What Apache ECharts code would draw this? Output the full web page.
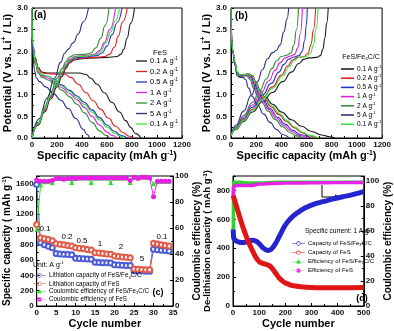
<!DOCTYPE html>
<html>
<head>
<meta charset="utf-8">
<script src="https://cdn.jsdelivr.net/npm/echarts@6/dist/echarts.min.js"></script>
<style>
html, body { margin: 0; padding: 0; background: #fff; }
#chart { width: 394px; height: 331px; }
</style>
</head>
<body>
<div id="chart"></div>
<script>
// rates shown in the legends of (a) and (b)
const rateLabels = ['0.1', '0.2', '0.5', '1', '2', '5', '0.1'];

// (a) FeS, discharge curves [capacity, potential]
const aDis01 = [[0,2.3],[10,2.1],[25,1.85],[50,1.62],[80,1.52],[120,1.5],[250,1.5],[380,1.5],[430,1.47],[470,1.38],[520,1.24],[580,1.04],[640,0.82],[700,0.6],[750,0.4],[790,0.24],[830,0.1],[870,0]];
const aDis02 = [[0,2.3],[10,2.08],[25,1.82],[50,1.6],[80,1.5],[150,1.48],[260,1.47],[310,1.4],[370,1.24],[430,1.05],[490,0.86],[550,0.66],[610,0.46],[670,0.27],[730,0.12],[780,0.04],[815,0]];
const aDis05 = [[0,2.3],[10,2.05],[25,1.78],[50,1.55],[80,1.45],[130,1.42],[180,1.35],[240,1.22],[300,1.1],[360,0.97],[420,0.82],[480,0.65],[540,0.47],[600,0.3],[660,0.15],[710,0.06],[760,0]];
const aDis1 = [[0,2.3],[10,2.02],[25,1.75],[50,1.52],[80,1.43],[130,1.38],[180,1.3],[240,1.16],[300,1.02],[360,0.88],[420,0.7],[480,0.5],[540,0.3],[600,0.14],[640,0.06],[680,0]];
const aDis2 = [[0,2.3],[10,2.0],[25,1.72],[50,1.5],[80,1.4],[130,1.34],[180,1.25],[240,1.1],[300,0.95],[360,0.78],[420,0.58],[480,0.36],[540,0.17],[590,0.06],[620,0]];
const aDis5 = [[0,2.25],[8,1.9],[20,1.55],[35,1.38],[60,1.3],[110,1.18],[170,1.03],[230,0.87],[290,0.68],[350,0.45],[410,0.2],[440,0.08],[460,0]];
const aDis01b = [[0,3.0],[3,2.5],[10,2.1],[25,1.78],[50,1.55],[80,1.46],[130,1.42],[180,1.34],[240,1.2],[300,1.07],[360,0.93],[420,0.77],[480,0.6],[540,0.42],[600,0.25],[660,0.11],[700,0.05],[740,0]];

// (a) FeS, charge curves
const aChg01 = [[0,0],[50,0.3],[100,0.6],[150,0.9],[200,1.18],[240,1.42],[270,1.6],[300,1.73],[340,1.8],[400,1.83],[500,1.85],[600,1.86],[680,1.88],[710,1.93],[735,2.05],[760,2.3],[790,2.65],[820,3.0]];
const aChg02 = [[0,0],[50,0.32],[100,0.63],[150,0.94],[200,1.23],[240,1.47],[270,1.63],[300,1.75],[340,1.82],[400,1.85],[500,1.86],[580,1.88],[620,1.93],[660,2.1],[690,2.35],[725,2.68],[762,3.0]];
const aChg05 = [[0,0],[50,0.33],[100,0.66],[150,0.97],[200,1.27],[240,1.5],[270,1.66],[300,1.78],[340,1.85],[420,1.87],[520,1.9],[560,1.96],[600,2.12],[640,2.38],[680,2.66],[720,3.0]];
const aChg1 = [[0,0],[50,0.34],[100,0.68],[150,1.0],[200,1.3],[240,1.53],[270,1.7],[300,1.82],[340,1.88],[420,1.9],[500,1.93],[540,2.02],[580,2.2],[620,2.5],[668,3.0]];
const aChg2 = [[0,0],[50,0.36],[100,0.72],[150,1.06],[200,1.38],[240,1.6],[270,1.76],[300,1.87],[340,1.92],[420,1.93],[470,1.96],[510,2.08],[550,2.3],[585,2.6],[616,3.0]];
const aChg5 = [[0,0],[60,0.45],[120,0.92],[180,1.38],[230,1.75],[260,1.95],[290,2.05],[330,2.2],[370,2.4],[410,2.68],[452,3.0]];
const aChg01b = [[0,0],[50,0.33],[100,0.67],[150,0.99],[200,1.29],[240,1.52],[270,1.68],[300,1.8],[340,1.87],[420,1.89],[510,1.92],[550,2.0],[590,2.2],[630,2.45],[665,2.7],[700,3.0]];

// (b) FeS/Fe3C/C, discharge curves
const bDis01 = [[0,3.0],[2,2.6],[6,2.25],[15,2.0],[30,1.75],[50,1.52],[70,1.46],[100,1.46],[140,1.48],[170,1.44],[200,1.28],[230,1.1],[270,0.95],[330,0.78],[400,0.6],[480,0.42],[560,0.27],[640,0.15],[720,0.07],[780,0.03],[825,0]];
const bDis02 = [[0,3.0],[2,2.6],[6,2.25],[15,2.0],[30,1.75],[50,1.5],[70,1.45],[100,1.46],[140,1.47],[165,1.42],[195,1.25],[225,1.06],[260,0.92],[320,0.72],[380,0.54],[440,0.38],[500,0.24],[560,0.13],[620,0.05],[690,0]];
const bDis05 = [[0,3.0],[2,2.6],[6,2.25],[15,2.0],[30,1.74],[50,1.49],[70,1.44],[100,1.45],[135,1.46],[160,1.4],[190,1.22],[220,1.03],[255,0.88],[310,0.68],[370,0.48],[430,0.32],[490,0.18],[550,0.08],[632,0]];
const bDis1 = [[0,3.0],[2,2.6],[6,2.25],[15,2.0],[30,1.74],[50,1.48],[70,1.43],[100,1.44],[130,1.45],[155,1.38],[185,1.18],[215,1.0],[250,0.85],[300,0.66],[360,0.46],[420,0.29],[480,0.15],[540,0.06],[605,0]];
const bDis2 = [[0,3.0],[2,2.6],[6,2.25],[15,2.0],[30,1.73],[50,1.47],[70,1.42],[100,1.43],[125,1.43],[150,1.35],[180,1.15],[210,0.97],[245,0.82],[295,0.62],[350,0.43],[410,0.26],[470,0.12],[520,0.05],[567,0]];
const bDis5 = [[0,3.0],[2,2.55],[6,2.2],[15,1.95],[30,1.68],[50,1.43],[70,1.4],[95,1.4],[115,1.35],[140,1.15],[170,0.95],[210,0.76],[260,0.55],[310,0.36],[360,0.2],[410,0.08],[462,0]];
const bDis01b = [[0,3.0],[2,2.6],[6,2.25],[15,2.0],[30,1.76],[50,1.52],[70,1.46],[100,1.47],[140,1.48],[168,1.43],[198,1.26],[228,1.08],[265,0.94],[325,0.74],[385,0.56],[445,0.4],[505,0.26],[565,0.14],[625,0.06],[695,0]];

// (b) FeS/Fe3C/C, charge curves
const bChg01 = [[0,0.05],[40,0.2],[100,0.38],[170,0.6],[250,0.83],[330,1.05],[410,1.3],[480,1.52],[540,1.72],[580,1.82],[620,1.85],[680,1.86],[710,1.9],[730,2.05],[745,2.3],[760,2.65],[772,3.0]];
const bChg02 = [[0,0.05],[40,0.22],[100,0.42],[170,0.66],[250,0.92],[330,1.18],[400,1.45],[450,1.66],[490,1.8],[530,1.86],[580,1.88],[610,1.95],[635,2.15],[655,2.5],[672,3.0]];
const bChg05 = [[0,0.05],[40,0.23],[100,0.45],[170,0.71],[250,0.99],[320,1.26],[380,1.52],[420,1.7],[460,1.82],[500,1.87],[540,1.9],[565,2.0],[585,2.25],[598,2.6],[606,3.0]];
const bChg1 = [[0,0.05],[40,0.24],[100,0.48],[170,0.76],[240,1.05],[300,1.32],[350,1.56],[390,1.74],[430,1.85],[470,1.89],[505,1.93],[530,2.08],[550,2.4],[567,3.0]];
const bChg2 = [[0,0.05],[40,0.26],[100,0.52],[170,0.82],[230,1.1],[280,1.36],[325,1.6],[360,1.77],[400,1.88],[440,1.91],[475,1.96],[500,2.15],[520,2.5],[536,3.0]];
const bChg5 = [[0,0.05],[40,0.3],[100,0.62],[160,0.98],[210,1.3],[250,1.58],[290,1.83],[330,1.97],[360,2.02],[390,2.15],[420,2.45],[445,2.75],[458,3.0]];
const bChg01b = [[0,0.05],[40,0.21],[100,0.4],[170,0.64],[250,0.9],[330,1.15],[410,1.43],[460,1.64],[500,1.79],[540,1.86],[600,1.88],[630,1.95],[655,2.15],[675,2.5],[692,3.0]];

// (c) rate performance
const cCycles = [0,1,2,3,4,5,6,7,8,9,10,11,12,13,14,15,16,17,18,19,20,21,22,23,24,25,26,27,28,29,30,31,32,33,34];
const cCapFeSC = [1590,828,800,780,762,685,680,676,673,670,625,620,617,614,611,572,569,567,565,563,538,535,532,530,528,462,459,457,455,454,741,735,730,725,720];
const cCapFeS = [1065,893,880,868,852,815,807,800,792,786,762,755,748,740,732,697,692,686,681,676,654,648,642,636,631,485,480,477,475,473,820,810,800,792,784];
const cCeFeSC = [59,93,95.5,96,95,98,98,98,98,95,98,98.5,98.5,98.5,95,98.5,98.5,98.5,98.5,95,98.5,98.5,98.5,98.5,95,99,99,99,99,99,94,95.5,96,96,96];
const cCeFeS = [97,96,96,96,96.5,98,98,97.5,98,98,98,98.5,98.5,98.5,98.5,98.5,98.5,98.5,98.5,98.5,98.5,98.5,98.5,98.5,96.5,99,98,99,99,98.5,84,96,96,96,96];
const cRateText = ['0.1', '0.2', '0.5', '1', '2', '5', '0.1'];

// (d) long cycling at 1 A g-1 [cycle, value]
const dCapFeSC = [[1,530],[2,478],[4,465],[8,458],[15,448],[25,442],[40,440],[55,445],[65,452],[75,456],[85,452],[95,440],[105,422],[115,403],[125,390],[135,385],[145,392],[155,412],[165,440],[175,475],[185,510],[195,545],[210,585],[230,622],[250,650],[275,678],[300,698],[330,716],[360,730],[390,744],[420,756],[450,768],[480,782],[500,792]];
const dCapFeS = [[1,765],[4,745],[10,710],[20,650],[30,590],[40,535],[50,485],[60,440],[70,400],[80,362],[90,330],[100,308],[110,298],[120,292],[130,286],[140,278],[150,260],[160,235],[170,210],[180,188],[190,172],[200,160],[220,145],[240,138],[260,133],[280,130],[320,127],[360,126],[400,126],[450,127],[500,128]];
const dCeFeSC = [[1,55],[2,92],[3,97],[5,99],[10,99],[20,99],[30,99],[40,98.6],[60,98.5],[100,98.5],[150,98.8],[200,99],[300,99],[400,99],[500,99]];
const dCeFeS = [[1,86],[2,95],[5,96],[15,96.5],[40,96.5],[70,96.5],[100,97.5],[150,98],[200,98.3],[300,98.5],[400,98.7],[500,98.8]];

const FONT = '"Liberation Sans", Arial, sans-serif';
const rateColors = ['#1a1a1a', '#e0201e', '#2233cc', '#e020e0', '#2e8b2e', '#2b2b80', '#3ee03e'];

// legend icons: plain line, line with open circle, with triangle, with dot
const lineIcon = 'path://M0,0H11V1.3H0Z';
const ringIcon = 'path://M0,3.6H8V4.4H0Z M16,3.6H24V4.4H16Z M16,4A4,4 0 1,0 8,4A4,4 0 1,0 16,4Z M14.9,4A2.9,2.9 0 1,1 9.1,4A2.9,2.9 0 1,1 14.9,4Z';
const triIcon = 'path://M0,4.6H24V5.4H0Z M12,0L16.5,7.5H7.5Z';
const dotIcon = 'path://M0,3.6H24V4.4H0Z M16,4A4,4 0 1,0 8,4A4,4 0 1,0 16,4Z';

function richSet(fs, weight) {
  return {
    t: { fontSize: fs, fontWeight: weight, fontFamily: FONT, color: '#000', lineHeight: Math.round(fs * 1.2) },
    sp: { fontSize: fs * 0.62, fontWeight: weight, fontFamily: FONT, color: '#000', verticalAlign: 'top' },
    sb: { fontSize: fs * 0.62, fontWeight: weight, fontFamily: FONT, color: '#000', verticalAlign: 'bottom' }
  };
}

function labelStyle(margin, fmt) {
  return { fontSize: 8, fontWeight: 'bold', fontFamily: FONT, color: '#111', margin: margin,
    formatter: fmt || (v => String(v)) };
}

function axisBase(extra) {
  return Object.assign({
    type: 'value',
    nameLocation: 'middle',
    axisLine: { show: true, onZero: false, lineStyle: { color: '#000', width: 1 } },
    axisTick: { show: true, inside: true, length: 3, lineStyle: { color: '#000' } },
    minorTick: { show: true, splitNumber: 2, length: 2, lineStyle: { color: '#000' } },
    splitLine: { show: false },
    axisLabel: labelStyle(3),
    nameTextStyle: { rich: richSet(11, 'bold') }
  }, extra);
}

const capName = '{t|Specific capacity (mAh g}{sp|-1}{t|)}';
const potName = '{t|Potential (V vs. Li}{sp|+}{t| / Li)}';

const chart = echarts.init(document.getElementById('chart'));

const series = [];
const aDis = [aDis01, aDis02, aDis05, aDis1, aDis2, aDis5, aDis01b];
const aChg = [aChg01, aChg02, aChg05, aChg1, aChg2, aChg5, aChg01b];
const bDis = [bDis01, bDis02, bDis05, bDis1, bDis2, bDis5, bDis01b];
const bChg = [bChg01, bChg02, bChg05, bChg1, bChg2, bChg5, bChg01b];

function curve(name, idx, data, color) {
  return {
    type: 'line', name: name, xAxisIndex: idx, yAxisIndex: idx, data: data,
    symbol: 'none', smooth: true, smoothMonotone: 'x', color: color,
    lineStyle: { width: 1.1, color: color }, silent: true
  };
}
rateLabels.forEach((r, i) => {
  series.push(curve('a' + i, 0, aDis[i], rateColors[i]));
  series.push(curve('a' + i, 0, aChg[i], rateColors[i]));
  series.push(curve('b' + i, 1, bDis[i], rateColors[i]));
  series.push(curve('b' + i, 1, bChg[i], rateColors[i]));
});

const pair = (xs, ys) => xs.map((x, i) => [x, ys[i]]);
series.push({
  type: 'line', name: 'cSC', xAxisIndex: 2, yAxisIndex: 2, data: pair(cCycles, cCapFeSC),
  symbol: 'emptyCircle', symbolSize: 5, color: '#4a5ad8', lineStyle: { width: 1, color: '#4a5ad8' }
});
series.push({
  type: 'line', name: 'cS', xAxisIndex: 2, yAxisIndex: 2, data: pair(cCycles, cCapFeS),
  symbol: 'emptyCircle', symbolSize: 5, color: '#e25a4a', lineStyle: { width: 1, color: '#e25a4a' }
});
series.push({
  type: 'line', name: 'cCeSC', xAxisIndex: 2, yAxisIndex: 3, data: pair(cCycles, cCeFeSC),
  symbol: 'triangle', symbolSize: 5, color: '#2ee02e', lineStyle: { width: 1, color: '#2ee02e' }
});
series.push({
  type: 'line', name: 'cCeS', xAxisIndex: 2, yAxisIndex: 3, data: pair(cCycles, cCeFeS),
  symbol: 'circle', symbolSize: 5, color: '#e81ee8', lineStyle: { width: 1, color: '#e81ee8' }
});

series.push({
  type: 'line', name: 'dCeSC', xAxisIndex: 3, yAxisIndex: 5, data: dCeFeSC,
  symbol: 'triangle', symbolSize: 5, showSymbol: false, smooth: true, color: '#2fd02f', lineStyle: { width: 3.5, color: '#2fd02f' }
});
series.push({
  type: 'line', name: 'dCeS', xAxisIndex: 3, yAxisIndex: 5, data: dCeFeS,
  symbol: 'circle', symbolSize: 5, showSymbol: false, smooth: true, color: '#e622e6', lineStyle: { width: 3.5, color: '#e622e6' }
});
series.push({
  type: 'line', name: 'dSC', xAxisIndex: 3, yAxisIndex: 4, data: dCapFeSC,
  symbol: 'emptyCircle', symbolSize: 5, showSymbol: false, smooth: true, color: '#2525cf', lineStyle: { width: 5, color: '#2525cf' }
});
series.push({
  type: 'line', name: 'dS', xAxisIndex: 3, yAxisIndex: 4, data: dCapFeS,
  symbol: 'emptyCircle', symbolSize: 5, showSymbol: false, smooth: true, color: '#e01515', lineStyle: { width: 5, color: '#e01515' }
});

const legendText = {
  cSC: '{t|Lithiation capacity of FeS/Fe}{sb|3}{t|C/C}',
  cS: '{t|Lithiation capacity of FeS}',
  cCeSC: '{t|Coulombic efficiency of FeS/Fe}{sb|3}{t|C/C}',
  cCeS: '{t|Coulombic efficiency of FeS}',
  dSC: '{t|Capacity of FeS/Fe}{sb|3}{t|C/C}',
  dS: '{t|Capacity of FeS}',
  dCeSC: '{t|Efficiency of FeS/Fe}{sb|3}{t|C/C}',
  dCeS: '{t|Efficiency of FeS}'
};
rateLabels.forEach((r, i) => {
  legendText['a' + i] = '{t|' + r + ' A g}{sp|-1}';
  legendText['b' + i] = '{t|' + r + ' A g}{sp|-1}';
});

function legendAt(left, top, items, fs, gap, iw, ih) {
  return {
    left: left, top: top, orient: 'vertical', padding: 0, itemGap: gap,
    itemWidth: iw, itemHeight: ih, selectedMode: false,
    data: items, formatter: n => legendText[n],
    textStyle: { fontSize: fs, fontFamily: FONT, color: '#000', padding: [0, 0, 0, -2], rich: richSet(fs, 'normal') }
  };
}

function txt(x, y, text, fs, weight, align) {
  return {
    type: 'text', x: x, y: y, silent: true,
    style: { text: text, align: align || 'center', verticalAlign: 'middle', fontSize: fs, fontWeight: weight,
      fontFamily: FONT, fill: '#000', rich: richSet(fs, weight) }
  };
}

const graphics = [
  txt(34, 15, '(a)', 10, 'bold', 'left'),
  txt(160, 53, 'FeS', 7.5, 'normal'),
  txt(235, 16, '(b)', 10, 'bold', 'left'),
  txt(361, 57, '{t|FeS/Fe}{sb|3}{t|C/C}', 7, 'normal'),
  txt(158, 293, '(c)', 9, 'bold'),
  txt(362, 299, '(d)', 9, 'bold'),
  txt(33, 265, '{t|Unit: A g}{sp|-1}', 7, 'normal', 'left'),
  txt(45, 229, cRateText[0], 8, 'normal'),
  txt(67, 237, cRateText[1], 8, 'normal'),
  txt(82, 241, cRateText[2], 8, 'normal'),
  txt(100, 244, cRateText[3], 8, 'normal'),
  txt(121, 247, cRateText[4], 8, 'normal'),
  txt(142, 259, cRateText[5], 8, 'normal'),
  txt(162, 237, cRateText[6], 8, 'normal'),
  txt(305, 231.5, '{t|Specific current: 1 A g}{sp|-1}', 6.5, 'normal', 'left'),
  {
    type: 'polyline', silent: true,
    shape: { points: [[322, 185], [322, 197], [336, 197]] },
    style: { stroke: '#000', lineWidth: 1, fill: null }
  },
  {
    type: 'polygon', silent: true,
    shape: { points: [[335, 194.5], [340, 197], [335, 199.5]] },
    style: { fill: '#000' }
  }
];

const potLabel = labelStyle(4, v => v.toFixed(1));

chart.setOption({
  backgroundColor: '#fff',
  animation: false,
  grid: [
    { left: 30, top: 8, width: 152, height: 130, show: true, borderColor: '#000', borderWidth: 1 },
    { left: 231, top: 8, width: 154, height: 130, show: true, borderColor: '#000', borderWidth: 1 },
    { left: 32, top: 176, width: 141, height: 130, show: true, borderColor: '#000', borderWidth: 1 },
    { left: 233, top: 176, width: 142, height: 130, show: true, borderColor: '#000', borderWidth: 1 }
  ],
  xAxis: [
    axisBase({ gridIndex: 0, min: 0, max: 1200, interval: 200, name: capName, nameGap: 11 }),
    axisBase({ gridIndex: 1, min: 0, max: 1200, interval: 200, name: capName, nameGap: 11 }),
    axisBase({ gridIndex: 2, min: 0, max: 35, interval: 5, name: '{t|Cycle number}', nameGap: 11 }),
    axisBase({ gridIndex: 3, min: 0, max: 500, interval: 100, name: '{t|Cycle number}', nameGap: 11 })
  ],
  yAxis: [
    axisBase({ gridIndex: 0, min: 0, max: 3, interval: 0.5, name: potName, nameGap: 18, axisLabel: potLabel }),
    axisBase({ gridIndex: 1, min: 0, max: 3, interval: 0.5, name: potName, nameGap: 16.5, axisLabel: potLabel }),
    axisBase({ gridIndex: 2, min: 0, max: 1700, interval: 200, name: '{t|Specific capacity ( mAh g}{sp|-1}{t|)}', nameGap: 20,
      nameTextStyle: { rich: richSet(10, 'bold') },
      axisLabel: Object.assign(labelStyle(3), { showMaxLabel: false }) }),
    axisBase({ gridIndex: 2, position: 'right', min: 0, max: 100, interval: 20, name: '{t|Coulombic efficiency (%)}', nameGap: 13,
      nameTextStyle: { rich: richSet(10, 'bold') },
      axisLabel: labelStyle(2) }),
    axisBase({ gridIndex: 3, min: 0, max: 900, interval: 200, name: '{t|De-lithiation capacity ( mAh g}{sp|-1}{t|)}', nameGap: 20,
      nameTextStyle: { rich: richSet(9.5, 'bold') },
      axisLabel: Object.assign(labelStyle(3), { showMaxLabel: false }) }),
    axisBase({ gridIndex: 3, position: 'right', min: 0, max: 104, interval: 20, name: '{t|Coulombic efficiency (%)}', nameGap: 11,
      nameTextStyle: { rich: richSet(10, 'bold') },
      axisLabel: Object.assign(labelStyle(2), { showMaxLabel: false }) })
  ],
  legend: [
    legendAt(136, 56.5, rateLabels.map((r, i) => ({ name: 'a' + i, icon: lineIcon })), 7.5, 2, 11, 8),
    legendAt(341, 65, rateLabels.map((r, i) => ({ name: 'b' + i, icon: lineIcon })), 6.5, 1.7, 13, 8),
    legendAt(33, 272.5, [
      { name: 'cSC', icon: ringIcon }, { name: 'cS', icon: ringIcon },
      { name: 'cCeSC', icon: triIcon }, { name: 'cCeS', icon: dotIcon }
    ], 6.3, 1.3, 13, 5),
    legendAt(292, 240.5, [
      { name: 'dSC', icon: ringIcon }, { name: 'dS', icon: ringIcon },
      { name: 'dCeSC', icon: triIcon }, { name: 'dCeS', icon: dotIcon }
    ], 6, 2.7, 13, 5)
  ],
  graphic: graphics,
  series: series
});
</script>
</body>
</html>
